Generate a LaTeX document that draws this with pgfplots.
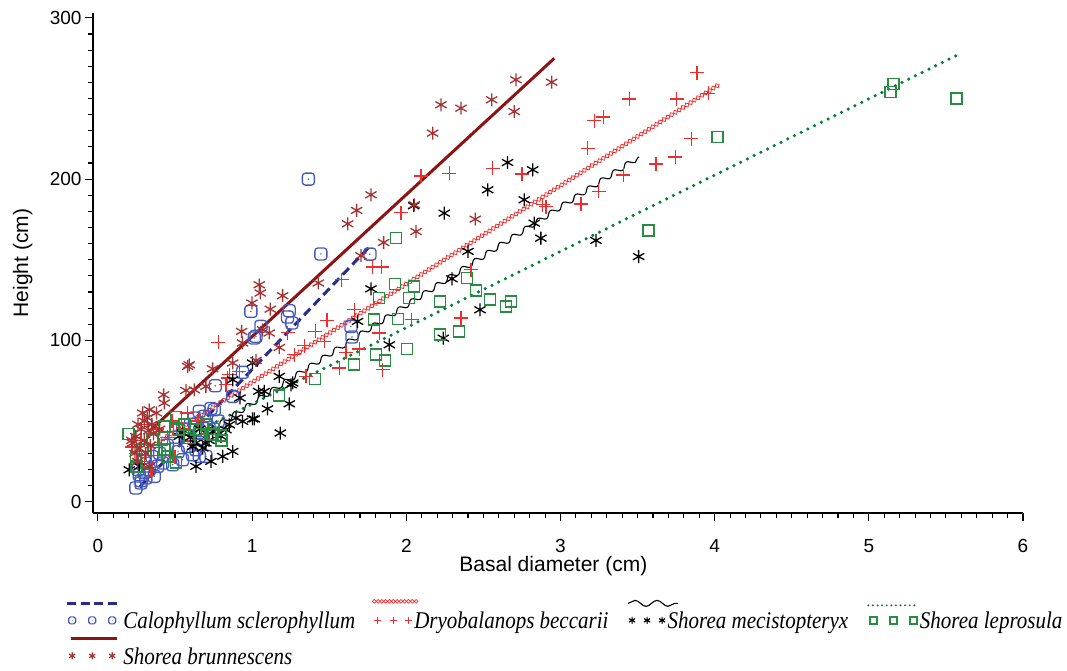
\documentclass[border=0pt]{standalone}
\usepackage{fontspec}
\setmainfont{Liberation Sans}
\newfontfamily\legfont[FakeStretch=0.875]{Liberation Serif}
\usepackage{pgfplots}
\pgfplotsset{compat=1.18}
\usetikzlibrary{decorations.pathmorphing,decorations.shapes,shapes.geometric}

\definecolor{calmark}{RGB}{70,90,190}
\definecolor{calline}{RGB}{40,45,140}
\definecolor{dryred}{RGB}{240,45,45}
\definecolor{brmark}{RGB}{165,50,50}
\definecolor{brline}{RGB}{140,20,20}
\definecolor{lepmark}{RGB}{40,140,65}
\definecolor{lepline}{RGB}{0,125,60}

% rounded square with a dot in the middle
\pgfdeclareplotmark{rsqdot}{%
  \pgfpathmoveto{\pgfpoint{-0.5\pgfplotmarksize}{-\pgfplotmarksize}}%
  \pgfpathlineto{\pgfpoint{0.5\pgfplotmarksize}{-\pgfplotmarksize}}%
  \pgfpathcurveto{\pgfpoint{0.78\pgfplotmarksize}{-\pgfplotmarksize}}{\pgfpoint{\pgfplotmarksize}{-0.78\pgfplotmarksize}}{\pgfpoint{\pgfplotmarksize}{-0.5\pgfplotmarksize}}%
  \pgfpathlineto{\pgfpoint{\pgfplotmarksize}{0.5\pgfplotmarksize}}%
  \pgfpathcurveto{\pgfpoint{\pgfplotmarksize}{0.78\pgfplotmarksize}}{\pgfpoint{0.78\pgfplotmarksize}{\pgfplotmarksize}}{\pgfpoint{0.5\pgfplotmarksize}{\pgfplotmarksize}}%
  \pgfpathlineto{\pgfpoint{-0.5\pgfplotmarksize}{\pgfplotmarksize}}%
  \pgfpathcurveto{\pgfpoint{-0.78\pgfplotmarksize}{\pgfplotmarksize}}{\pgfpoint{-\pgfplotmarksize}{0.78\pgfplotmarksize}}{\pgfpoint{-\pgfplotmarksize}{0.5\pgfplotmarksize}}%
  \pgfpathlineto{\pgfpoint{-\pgfplotmarksize}{-0.5\pgfplotmarksize}}%
  \pgfpathcurveto{\pgfpoint{-\pgfplotmarksize}{-0.78\pgfplotmarksize}}{\pgfpoint{-0.78\pgfplotmarksize}{-\pgfplotmarksize}}{\pgfpoint{-0.5\pgfplotmarksize}{-\pgfplotmarksize}}%
  \pgfpathclose
  \pgfusepathqstroke
  \pgfpathcircle{\pgfpointorigin}{0.14\pgfplotmarksize}%
  \pgfusepathqfill
}

\tikzset{
  diamchain/.style={decorate, decoration={shape backgrounds, shape=diamond,
      shape size=4.5pt, shape sep={4.5pt, between centers}}},
  wavy/.style={decorate, decoration={snake, amplitude=2.5pt, segment length=15pt}},
  legmarks/.style={line width=1.2pt, only marks, mark size=3.5pt},
}

\begin{document}
\begin{tikzpicture}
\begin{axis}[
  name=ax,
  scale only axis, width=930pt, height=500pt,
  xmin=-0.032, xmax=6, ymin=-7, ymax=303,
  axis lines*=left,
  axis line style={line width=1.3pt},
  tick style={black, line width=1.1pt},
  tick align=outside,
  major tick length=8pt, minor tick length=4.5pt,
  xtick={0,1,...,6}, ytick={0,100,200,300},
  minor x tick num=9, minor y tick num=9,
  ticklabel style={font=\fontsize{19}{22}\selectfont},
  xticklabel style={yshift=-15pt},
  /pgf/number format/assume math mode=true,
  xlabel={Basal diameter (cm)}, ylabel={Height (cm)},
  label style={font=\fontsize{21}{24}\selectfont},
  xlabel style={at={(axis description cs:0.495,-0.107)}, anchor=center},
  ylabel style={at={(axis description cs:-0.0755,0.5)}, anchor=center},
  legend columns=4,
  legend cell align=left,
  legend style={draw=none, fill=none, inner sep=0pt,
    at={(axis description cs:-0.0296,-0.173)}, anchor=north west,
    font=\legfont\itshape\fontsize{24}{26}\selectfont,
    nodes={inner xsep=2.5pt, inner ysep=1pt},
    /tikz/every even column/.append style={column sep=16.5pt},
    row sep=6pt},
]

% Calophyllum sclerophyllum
\addplot[only marks, mark=rsqdot, calmark, mark size=6pt, line width=1.3pt,
  legend image code/.code={
    \draw[calline, line width=3pt, dash pattern=on 9pt off 4.5pt] (0pt,18pt) -- (50pt,18pt);
    \draw[calmark, legmarks, mark=rsqdot] plot coordinates {(5pt,1pt)(25pt,1pt)(45pt,1pt)};
    \path (53pt,1pt);
  }] coordinates {
  (1.365,200) (1.446,153.6) (1.764,153.5) (0.992,118) (1.241,118.4) (1.23,114.5)
  (1.258,110.8) (1.057,108.7) (1.014,101.5) (1.025,102.5) (0.938,80.2) (0.761,71.9)
  (1.641,108.7) (1.648,102.1) (0.874,65.3) (0.755,57) (0.69,52.9) (0.625,51.9)
  (0.733,57.8) (0.657,56) (0.636,32.2) (0.657,28.1) (0.246,8.5) (0.279,11.6)
  (0.311,14.7) (0.365,15.7) (0.333,19.8) (0.268,16.7) (0.387,21.9) (0.485,22.9)
  (0.549,26) (0.614,29.1) (0.582,34.3) (0.657,35.3) (0.70,28.1) (0.55,45) (0.6,48)
  (0.66,44) (0.4,30) (0.45,35) (0.3,25) (0.35,28) (0.26,20) (0.5,40) (0.3,18)
  (0.28,13) (0.42,24) (0.52,31) (0.58,41) (0.72,46) (0.78,50)
};
\addlegendentry{Calophyllum sclerophyllum}

% Dryobalanops beccarii
\addplot[only marks, mark=+, dryred, mark size=7pt, line width=1.3pt,
  legend image code/.code={
    \draw[overlay, dryred, line width=0.7pt, decorate, decoration={shape backgrounds, shape=diamond,
      shape size=3.8pt, shape sep={3.8pt, between centers}}] (0pt,20pt) -- (42pt,20pt);
    \draw[dryred, legmarks, mark=+] plot coordinates {(3.5pt,1pt)(19pt,1pt)(34pt,1pt)};
  }] coordinates {
  (3.885,266.1) (3.446,249.6) (3.754,249.6) (3.96,253.3) (3.219,236.2) (3.278,238.5)
  (3.176,219.2) (3.848,225) (3.745,213.7) (3.62,209.3) (3.407,202.5) (3.248,192.4)
  (2.75,203.1) (3.133,184.5) (2.884,184.1) (2.906,183) (2.56,206.8) (2.279,203.7)
  (2.095,202) (1.965,179.3) (1.782,145.5) (1.84,145.5) (1.581,137.6) (1.485,112.4)
  (1.41,105.6) (1.468,99.4) (1.663,119) (2.035,112.8) (1.825,104.6) (2.355,113.9)
  (2.419,143.8) (1.609,92.6) (1.695,94.6) (1.565,82.9) (1.847,81.8) (1.338,96.7)
  (1.273,91.1) (1.23,104.9) (1.349,77.7) (0.78,98.8) (0.917,80.8) (0.841,76.7)
  (0.852,78.7) (0.83,72.5) (0.344,19.8) (0.355,21) (0.25,30) (0.3,25) (0.4,35)
  (0.45,40) (0.5,28) (0.55,45) (0.6,38) (0.65,50) (0.7,42) (0.38,45) (0.28,38)
  (0.32,48) (0.48,50) (0.58,55) (0.22,34)
};
\addlegendentry{Dryobalanops beccarii}

% Shorea mecistopteryx
\addplot[only marks, mark=asterisk, black, mark size=6.5pt, line width=1.3pt,
  legend image code/.code={
    \draw[overlay, black, line width=1.1pt, decorate, decoration={snake, amplitude=3pt, segment length=22pt}]
      (0pt,18pt) -- (50pt,18pt);
    \draw[black, legmarks, mark=asterisk] plot coordinates {(4pt,1pt)(19pt,1pt)(34pt,1pt)};
    \path (0pt,21pt);
  }] coordinates {
  (2.657,210.3) (2.82,205.8) (2.528,193.4) (2.246,178.9) (2.765,187.2) (2.83,172.7)
  (2.873,163.4) (3.23,162) (3.507,152) (2.40,155.2) (2.048,183.5) (1.771,132)
  (2.296,138.2) (1.684,111.8) (2.478,119) (1.89,97.3) (2.24,101.4) (1.176,77.7)
  (1.252,72.5) (1.079,68.4) (1.241,60.7) (1.10,57.6) (1.003,51.3) (1.183,42.6)
  (1.003,86) (0.874,75.6) (1.263,73.6) (0.921,64.3) (1.042,68.4) (1.014,51.3)
  (0.938,49.8) (0.895,51.9) (0.852,47.7) (0.83,44.6) (0.798,40.5) (0.744,43.6)
  (0.70,36.4) (0.636,36.4) (0.614,34.3) (0.68,33.3) (0.549,42.6) (0.527,40.5)
  (0.636,21.9) (0.733,25) (0.809,28.1) (0.874,31.2) (0.203,19.8) (0.268,21.9)
  (0.6,40) (0.66,45) (0.72,38)
};
\addlegendentry{Shorea mecistopteryx}

% Shorea leprosula
\addplot[only marks, mark=square, lepmark, mark size=5.5pt, line width=1.6pt,
  legend image code/.code={
    \draw[lepline, line width=2.2pt, line cap=round, dash pattern=on 0pt off 4.6pt] (1pt,16pt) -- (49pt,16pt);
    \draw[lepmark, legmarks, mark=square, line width=1.6pt] plot coordinates {(6pt,1pt)(26pt,1pt)(46pt,1pt)};
  }] coordinates {
  (5.16,259) (5.14,254) (5.57,250) (4.02,226) (3.57,168) (1.933,163.4) (1.926,135.1)
  (2.05,133.3) (1.823,126.4) (2.017,126.4) (2.218,124) (2.393,138.8) (2.452,130.8)
  (2.543,125.2) (2.646,120.9) (2.679,124) (1.79,112.8) (1.946,113.4) (2.218,103.5)
  (2.342,105.4) (2.004,94.8) (1.803,91.1) (1.862,87.4) (1.661,84.9) (1.408,76.2)
  (1.174,65.7) (0.506,52.5) (0.43,46.7) (0.527,44.6) (0.636,44.6) (0.70,47.7)
  (0.744,41.5) (0.798,40.9) (0.246,27.7) (0.311,24) (0.506,24.4) (0.43,32.2)
  (0.592,39.5) (0.29,32.2) (0.355,38.4) (0.2,42) (0.38,32) (0.66,42) (0.75,45)
  (0.56,48) (0.8,38) (0.25,22) (0.45,28)
};
\addlegendentry{Shorea leprosula}

% Shorea brunnescens
\addplot[only marks, mark=asterisk, brmark, mark size=6.5pt, line width=1.3pt,
  legend image code/.code={
    \draw[brline, line width=3pt] (4pt,18pt) -- (50pt,18pt);
    \draw[brmark, legmarks, mark=asterisk] plot coordinates {(5pt,1pt)(25pt,1pt)(45pt,1pt)};
  }] coordinates {
  (2.711,261.6) (2.943,260.1) (2.554,249.2) (2.225,246.1) (2.355,244) (2.70,241.9)
  (2.171,228.5) (2.447,175.2) (2.063,167.5) (1.853,160.7) (2.052,184.1) (1.771,190.3)
  (1.678,180.6) (1.62,172.3) (1.706,152.5) (1.429,135.6) (1.046,134.5) (1.053,129.4)
  (0.999,123.2) (1.198,127.7) (1.118,119.4) (0.932,105.6) (1.068,106.6) (1.111,104.6)
  (1.176,95.6) (0.938,98.4) (0.874,86) (0.744,82.4) (0.582,83.9) (0.70,71.5)
  (0.625,69.4) (1.025,87.6) (0.426,66.3) (0.43,61.2) (0.592,84.9) (0.571,69)
  (0.333,57) (0.225,36.4) (0.257,25) (0.333,21.9) (0.246,40.5) (0.28,45) (0.3,50)
  (0.32,52) (0.35,48) (0.36,42) (0.3,38) (0.27,33) (0.31,30) (0.38,55) (0.34,35)
  (0.29,55) (0.4,45) (0.24,30) (0.33,44) (0.26,48) (0.22,38)
};
\addlegendentry{Shorea brunnescens}

% fitted lines
\addplot[forget plot, calline, line width=3pt, dash pattern=on 9pt off 5pt]
  coordinates {(0.27,9) (1.77,159)};
\addplot[forget plot, dryred, line width=0.8pt, diamchain]
  coordinates {(0.35,34.4) (4.04,259.4)};
\addplot[forget plot, black, line width=1.1pt, wavy]
  coordinates {(0.62,37.8) (3.51,213.8)};
\addplot[forget plot, lepline, line width=3.5pt, line cap=round, dash pattern=on 0pt off 7.5pt]
  coordinates {(0.55,39.3) (5.58,277.2)};
\addplot[forget plot, brline, line width=3pt]
  coordinates {(0.33,43.4) (2.96,274.9)};

\end{axis}
% frame of the reference picture around the axis box
\path (ax.south west) ++(-93pt,-158pt);
\path (ax.north east) ++(44pt,13pt);
\end{tikzpicture}
\end{document}
